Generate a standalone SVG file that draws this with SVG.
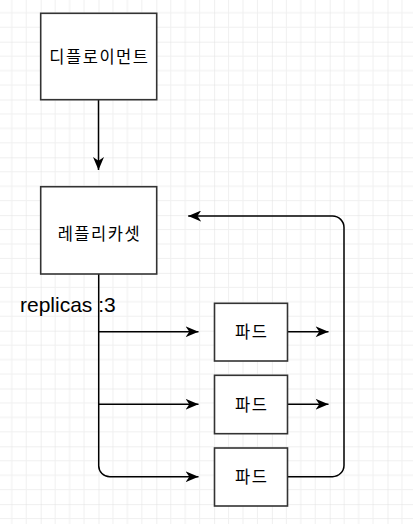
<svg xmlns="http://www.w3.org/2000/svg" width="413" height="524" viewBox="0 0 413 524">
  <style>
    .node rect { fill: #ffffff; stroke: #333333; stroke-width: 1.6; }
    .ko { font-family: "Noto Sans CJK KR", "Noto Sans", sans-serif; font-size: 16.5px; fill: #000000; text-anchor: middle; letter-spacing: 1.5px; }
    .lbl { font-family: "Liberation Sans", Arial, sans-serif; font-size: 21px; fill: #000000; }
    .edge { fill: none; stroke: #000000; stroke-width: 1.5; }
  </style>
  <defs>
    <pattern id="grid" patternUnits="userSpaceOnUse" x="40.7" y="41.7" width="57.8" height="57.8">
      <path d="M14.45,0 V57.8 M28.9,0 V57.8 M43.35,0 V57.8 M0,14.45 H57.8 M0,28.9 H57.8 M0,43.35 H57.8" stroke="#f0f0f0" stroke-width="1" fill="none"/>
      <path d="M0,0 V57.8 M0,0 H57.8" stroke="#e0e0e0" stroke-width="1" fill="none"/>
    </pattern>
    <marker id="arr" viewBox="0 0 13 11" refX="13" refY="5.5" markerWidth="13" markerHeight="11" markerUnits="userSpaceOnUse" orient="auto">
      <path d="M0,0 L13,5.5 L0,11 L3.8,5.5 Z" fill="#000000"/>
    </marker>
  </defs>
  <rect x="0" y="0" width="413" height="524" fill="#ffffff"/>
  <rect x="0" y="0" width="413" height="524" fill="url(#grid)"/>

  <g id="connectors">
    <path class="edge" d="M98.5,99.7 V170" marker-end="url(#arr)"/>
    <path class="edge" d="M98.7,274 V465.7 A11,11 0 0 0 109.7,476.7 H198.5" marker-end="url(#arr)"/>
    <path class="edge" d="M98.7,331.7 H198.5" marker-end="url(#arr)"/>
    <path class="edge" d="M98.7,404.3 H198.5" marker-end="url(#arr)"/>
    <path class="edge" d="M287.5,331.7 H328.5" marker-end="url(#arr)"/>
    <path class="edge" d="M287.5,404.3 H328.5" marker-end="url(#arr)"/>
    <path class="edge" d="M287.5,476.7 H332.5 A11.5,11.5 0 0 0 344,465.2 V227.5 A11.5,11.5 0 0 0 332.5,216 H188.2" marker-end="url(#arr)"/>
  </g>

  <text class="lbl" x="20" y="311.5">replicas :3</text>

  <g id="deployment" class="node">
    <rect x="40.7" y="13.3" width="116" height="86.4"/>
    <text class="ko" x="99.4" y="62.8">디플로이먼트</text>
  </g>
  <g id="replicaset" class="node">
    <rect x="40.7" y="186.7" width="116" height="87.3"/>
    <text class="ko" x="99.4" y="239.7">레플리카셋</text>
  </g>
  <g id="pod1" class="node">
    <rect x="214.5" y="303.3" width="73" height="57.7"/>
    <text class="ko" x="251.8" y="338">파드</text>
  </g>
  <g id="pod2" class="node">
    <rect x="214.5" y="375.3" width="73" height="58.4"/>
    <text class="ko" x="251.8" y="410.6">파드</text>
  </g>
  <g id="pod3" class="node">
    <rect x="214.5" y="448" width="73" height="58"/>
    <text class="ko" x="251.8" y="483">파드</text>
  </g>
</svg>
